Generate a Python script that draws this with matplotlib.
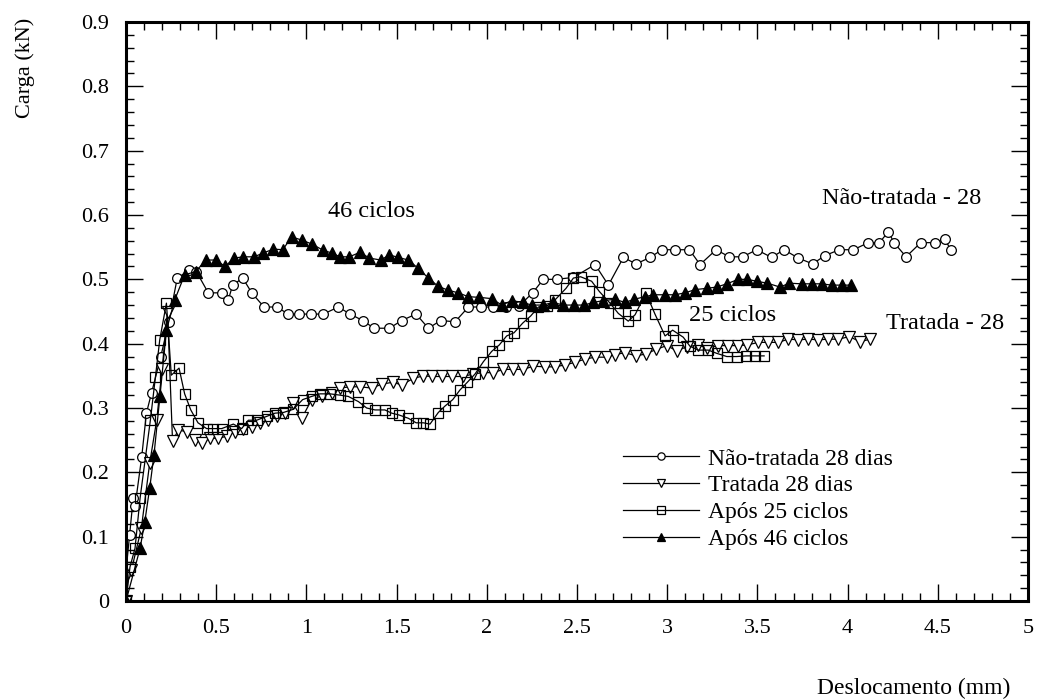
import numpy as np
import matplotlib.pyplot as plt
from matplotlib.ticker import MultipleLocator, FuncFormatter

plt.rcParams['font.family'] = ['Liberation Serif', 'DejaVu Serif']

# Não-tratada 28 dias
x_nt = [0, 0.0, 0.02, 0.04, 0.05, 0.087, 0.113, 0.142, 0.192, 0.237, 0.284, 0.351, 0.39,
        0.456, 0.53, 0.567, 0.591, 0.647, 0.697, 0.765, 0.835, 0.900, 0.961, 1.024, 1.094,
        1.177, 1.242, 1.312, 1.375, 1.460, 1.528, 1.608, 1.676, 1.744, 1.824, 1.898, 1.966,
        2.033, 2.106, 2.180, 2.254, 2.313, 2.387, 2.480, 2.600, 2.674, 2.757, 2.827, 2.905,
        2.970, 3.043, 3.123, 3.182, 3.271, 3.344, 3.418, 3.496, 3.579, 3.647, 3.727, 3.806,
        3.875, 3.954, 4.032, 4.115, 4.176, 4.226, 4.257, 4.324, 4.405, 4.484, 4.540, 4.571]
y_nt = [0, 0.047, 0.103, 0.160, 0.147, 0.224, 0.292, 0.324, 0.379, 0.434, 0.502, 0.514, 0.512,
        0.479, 0.479, 0.468, 0.491, 0.502, 0.479, 0.457, 0.457, 0.446, 0.446, 0.446, 0.446,
        0.457, 0.446, 0.436, 0.424, 0.424, 0.436, 0.446, 0.424, 0.436, 0.434, 0.457, 0.457,
        0.457, 0.457, 0.459, 0.479, 0.500, 0.500, 0.503, 0.523, 0.491, 0.534, 0.524, 0.534,
        0.546, 0.546, 0.546, 0.523, 0.546, 0.535, 0.535, 0.546, 0.534, 0.546, 0.533, 0.524,
        0.537, 0.546, 0.546, 0.557, 0.557, 0.574, 0.557, 0.535, 0.557, 0.557, 0.562, 0.546]

# Tratada 28 dias
x_tr = [0, 0.013, 0.03, 0.085, 0.131, 0.170, 0.20, 0.23, 0.258, 0.290, 0.336, 0.382, 0.419,
        0.466, 0.512, 0.558, 0.604, 0.650, 0.697, 0.743, 0.789, 0.835, 0.881, 0.924, 0.974,
        1.029, 1.085, 1.140, 1.186, 1.242, 1.297, 1.362, 1.417, 1.478, 1.528, 1.593, 1.648,
        1.694, 1.750, 1.805, 1.870, 1.925, 1.981, 2.036, 2.091, 2.147, 2.202, 2.258, 2.323,
        2.378, 2.434, 2.489, 2.544, 2.600, 2.664, 2.711, 2.766, 2.827, 2.882, 2.938, 2.997,
        3.052, 3.108, 3.172, 3.219, 3.283, 3.338, 3.394, 3.444, 3.505, 3.560, 3.616, 3.671,
        3.727, 3.782, 3.838, 3.893, 3.949, 4.010, 4.069, 4.124]
y_tr = [0, 0.043, 0.048, 0.113, 0.214, 0.281, 0.36, 0.45, 0.248, 0.266, 0.263, 0.250, 0.246,
        0.253, 0.253, 0.256, 0.263, 0.268, 0.271, 0.276, 0.281, 0.287, 0.293, 0.308, 0.284,
        0.313, 0.319, 0.324, 0.331, 0.333, 0.333, 0.331, 0.337, 0.340, 0.336, 0.346, 0.350,
        0.349, 0.349, 0.349, 0.349, 0.353, 0.355, 0.355, 0.360, 0.360, 0.360, 0.365, 0.364,
        0.364, 0.367, 0.371, 0.376, 0.379, 0.379, 0.383, 0.386, 0.381, 0.384, 0.391, 0.397,
        0.389, 0.395, 0.398, 0.393, 0.397, 0.397, 0.397, 0.398, 0.402, 0.402, 0.402, 0.407,
        0.406, 0.407, 0.406, 0.407, 0.407, 0.411, 0.403, 0.407]

# Após 25 ciclos
x_25 = [0, 0.022, 0.050, 0.078, 0.135, 0.163, 0.187, 0.224, 0.251, 0.294, 0.325, 0.359, 0.399,
        0.447, 0.484, 0.530, 0.595, 0.641, 0.678, 0.724, 0.780, 0.826, 0.872, 0.927, 0.979,
        1.029, 1.075, 1.131, 1.186, 1.232, 1.288, 1.334, 1.380, 1.435, 1.473, 1.515, 1.565,
        1.608, 1.648, 1.685, 1.731, 1.768, 1.811, 1.851, 1.892, 1.935, 1.981, 2.027, 2.069,
        2.110, 2.151, 2.199, 2.243, 2.286, 2.335, 2.378, 2.439, 2.480, 2.520, 2.581, 2.624,
        2.683, 2.729, 2.784, 2.822, 2.882, 2.932, 2.988, 3.030, 3.089, 3.126, 3.172, 3.228,
        3.274, 3.330, 3.385, 3.437, 3.487, 3.537]
y_25 = [0, 0.053, 0.082, 0.160, 0.281, 0.348, 0.406, 0.463, 0.351, 0.362, 0.322, 0.297, 0.277,
        0.268, 0.268, 0.268, 0.275, 0.268, 0.281, 0.281, 0.287, 0.292, 0.293, 0.298, 0.313,
        0.318, 0.322, 0.322, 0.320, 0.318, 0.310, 0.300, 0.297, 0.297, 0.292, 0.289, 0.284,
        0.277, 0.277, 0.275, 0.293, 0.303, 0.313, 0.328, 0.340, 0.353, 0.372, 0.388, 0.398,
        0.412, 0.417, 0.432, 0.443, 0.457, 0.459, 0.468, 0.486, 0.502, 0.504, 0.497, 0.481,
        0.463, 0.447, 0.435, 0.445, 0.479, 0.446, 0.412, 0.421, 0.410, 0.396, 0.390, 0.390,
        0.385, 0.380, 0.380, 0.381, 0.381, 0.381]

# Após 46 ciclos
x_46 = [0, 0.078, 0.104, 0.131, 0.155, 0.188, 0.224, 0.27, 0.325, 0.386, 0.443, 0.499, 0.549,
        0.599, 0.650, 0.710, 0.761, 0.817, 0.869, 0.918, 0.974, 1.029, 1.094, 1.140, 1.186,
        1.238, 1.297, 1.349, 1.412, 1.460, 1.510, 1.565, 1.620, 1.676, 1.731, 1.787, 1.842,
        1.898, 1.959, 2.027, 2.083, 2.138, 2.199, 2.249, 2.310, 2.368, 2.424, 2.483, 2.539,
        2.590, 2.646, 2.711, 2.766, 2.816, 2.877, 2.923, 2.988, 3.043, 3.099, 3.154, 3.219,
        3.274, 3.330, 3.394, 3.444, 3.496, 3.555, 3.625, 3.677, 3.745, 3.801, 3.856, 3.911,
        3.967, 4.016]
y_46 = [0, 0.082, 0.123, 0.175, 0.227, 0.318, 0.421, 0.468, 0.507, 0.512, 0.530, 0.530, 0.520,
        0.533, 0.535, 0.535, 0.541, 0.547, 0.546, 0.566, 0.561, 0.555, 0.545, 0.541, 0.535,
        0.535, 0.542, 0.533, 0.530, 0.538, 0.534, 0.530, 0.517, 0.502, 0.489, 0.483, 0.479,
        0.473, 0.472, 0.470, 0.460, 0.467, 0.464, 0.460, 0.460, 0.464, 0.460, 0.460, 0.460,
        0.464, 0.467, 0.469, 0.464, 0.469, 0.473, 0.476, 0.476, 0.476, 0.479, 0.484, 0.486,
        0.488, 0.493, 0.500, 0.500, 0.497, 0.494, 0.488, 0.494, 0.493, 0.493, 0.493, 0.491,
        0.491, 0.491]

fig = plt.figure(figsize=(10.38, 7.0), dpi=100)
ax = fig.add_axes([0.1214, 0.1414, 0.869, 0.8272])

ax.plot(x_nt, y_nt, color='black', lw=0.9, marker='o', ms=7, mfc='white', mec='black',
        mew=0.9, label='Não-tratada 28 dias')
ax.plot(x_tr, y_tr, color='black', lw=0.9, marker='v', ms=8.5, mfc='white', mec='black',
        mew=0.9, label='Tratada 28 dias')
ax.plot(x_25, y_25, color='black', lw=0.9, marker='s', ms=7.5, mfc='none', mec='black',
        mew=0.9, label='Após 25 ciclos')
ax.plot(x_46, y_46, color='black', lw=0.9, marker='^', ms=8.5, mfc='black', mec='black',
        mew=0.9, label='Após 46 ciclos')

ax.set_xlim(0, 5)
ax.set_ylim(0, 0.9)
ax.xaxis.set_major_locator(MultipleLocator(0.5))
ax.xaxis.set_minor_locator(MultipleLocator(0.1))
ax.yaxis.set_major_locator(MultipleLocator(0.1))
ax.yaxis.set_minor_locator(MultipleLocator(0.02))
fmt = FuncFormatter(lambda v, p: '%g' % round(v, 2))
ax.xaxis.set_major_formatter(fmt)
ax.yaxis.set_major_formatter(fmt)
ax.tick_params(which='both', direction='in', top=True, right=True, labelsize=16, width=1)
ax.tick_params(which='major', length=12)
ax.tick_params(which='minor', length=6)
ax.tick_params(axis='x', pad=13)
ax.tick_params(axis='y', pad=12)
for s in ax.spines.values():
    s.set_linewidth(2.2)

ax.text(1.36, 0.605, '46 ciclos', fontsize=17.5, ha='center', va='center')
ax.text(3.86, 0.625, 'Não-tratada - 28', fontsize=17.5, ha='left', va='center')
ax.text(3.12, 0.444, '25 ciclos', fontsize=17.5, ha='left', va='center')
ax.text(4.21, 0.431, 'Tratada - 28', fontsize=17.5, ha='left', va='center')

ax.legend(loc='upper left', bbox_to_anchor=(0.551, 0.264), frameon=False, fontsize=17,
          handlelength=3.2, handletextpad=0.4, labelspacing=0.22, borderaxespad=0,
          borderpad=0, markerscale=0.75)

fig.text(0.024, 0.903, 'Carga (kN)', rotation=90, fontsize=16, ha='center', va='center')
fig.text(0.88, 0.017, 'Deslocamento (mm)', fontsize=17, ha='center', va='center')

fig.savefig('out.png', dpi=100)
